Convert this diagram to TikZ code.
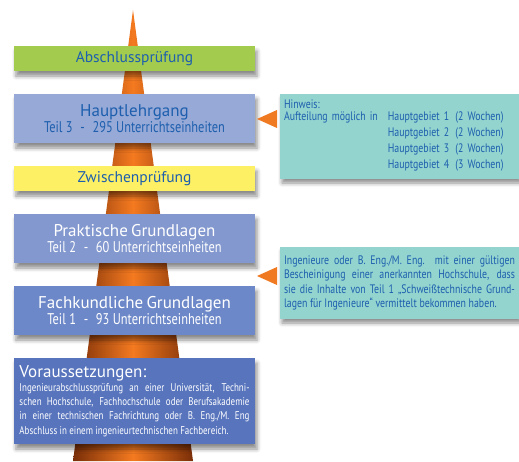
\documentclass[tikz,border=0pt]{standalone}
\usepackage{fontspec}
\setmainfont{PT Sans}
\newfontfamily\narrowfont[FakeStretch=0.8]{PT Sans}
\usetikzlibrary{shadows.blur}
\definecolor{textblue}{HTML}{1D5FAE}
\definecolor{greenbox}{HTML}{A3CC4F}
\definecolor{hauptbox}{HTML}{97A9D6}
\definecolor{yellowbox}{HTML}{FDF064}
\definecolor{praktbox}{HTML}{8398CE}
\definecolor{fachbox}{HTML}{6D88C8}
\definecolor{vorbox}{HTML}{5774BD}
\definecolor{notebox}{HTML}{93D4CF}
\definecolor{spiredark}{HTML}{7A2E08}
\definecolor{spireorange}{HTML}{F47A20}
\definecolor{pointer}{HTML}{F07A22}
\begin{document}
\begin{tikzpicture}[x=1pt,y=-1pt,
        every node/.style={inner sep=0pt, outer sep=0pt},
        stage/.style={fill=#1, minimum width=241pt, text width=232pt, align=center,
            blur shadow={shadow xshift=2pt, shadow yshift=-5pt, shadow blur radius=4pt, shadow opacity=45}},
        hint/.style={fill=notebox, minimum width=239pt, text width=231pt, text=textblue,
            blur shadow={shadow xshift=2pt, shadow yshift=-4pt, shadow blur radius=4pt, shadow opacity=45}}]
            \useasboundingbox (0,0) rectangle (519,461);

            \shade[left color=spiredark, right color=spiredark, middle color=spireorange] (133,10) -- (193,461) -- (73,461) -- cycle;

            \node (abschluss) at (134.5,58.5) [stage=greenbox, minimum height=25pt, text=textblue, font=\fontsize{15.5}{17}\selectfont]{Abschlussprüfung};
            \node (haupt) at (134.5,118.5) [stage=hauptbox, minimum height=49pt, text=textblue]{{\fontsize{17}{19}\selectfont Hauptlehrgang}\\[1pt]
                {\narrowfont\fontsize{15.5}{16}\selectfont Teil 3\enspace -\enspace 295 Unterrichtseinheiten}};
            \node (zwischen) at (134.5,178.5) [stage=yellowbox, minimum height=25pt, text=textblue, font=\fontsize{15.5}{17}\selectfont]{Zwischenprüfung};
            \node (praktisch) at (134.5,238.5) [stage=praktbox, minimum height=49pt, text=white]{{\fontsize{17}{19}\selectfont Praktische Grundlagen}\\[1pt]
                {\narrowfont\fontsize{15.5}{16}\selectfont Teil 2\enspace -\enspace 60 Unterrichtseinheiten}};
            \node (fach) at (134.5,310.5) [stage=fachbox, minimum height=49pt, text=white]{{\fontsize{17}{19}\selectfont Fachkundliche Grundlagen}\\[1pt]
                {\narrowfont\fontsize{15.5}{16}\selectfont Teil 1\enspace -\enspace 93 Unterrichtseinheiten}};
            \node (voraus) at (134.5,401) [stage=vorbox, minimum height=86pt, text width=230pt, align=justify, text=white]{{\fontsize{17}{19}\selectfont Voraussetzungen:}\par
                {\narrowfont\fontsize{11.2}{14.2}\selectfont Ingenieurabschlussprüfung an einer Universität, Techni-\linebreak
                schen Hochschule, Fachhochschule oder Berufsakademie\linebreak
                in einer technischen Fachrichtung oder B. Eng./M. Eng\linebreak
                Abschluss in einem ingenieurtechnischen Fachbereich.\par}};

            \node (hinweis) at (399.5,136.5) [hint, minimum height=85pt, align=left, font=\narrowfont\fontsize{12.3}{15.8}\selectfont]{Hinweis:\\
                \begin{tabular}{@{}l@{\hspace{10pt}}l@{}}
                Aufteilung möglich in & Hauptgebiet 1\enspace(2 Wochen)\\
                & Hauptgebiet 2\enspace(2 Wochen)\\
                & Hauptgebiet 3\enspace(2 Wochen)\\
                & Hauptgebiet 4\enspace(3 Wochen)
                \end{tabular}};
            \node (ingenieure) at (399.5,283) [hint, minimum height=72pt, align=justify, font=\narrowfont\fontsize{12.3}{14.3}\selectfont]{Ingenieure oder B. Eng./M. Eng. mit einer gültigen\linebreak
                Bescheinigung einer anerkannten Hochschule, dass\linebreak
                sie die Inhalte von Teil 1 „Schweißtechnische Grund-\linebreak
                lagen für Ingenieure“ vermittelt bekommen haben.\par};

            \fill[pointer] (257,119) -- (277,110) -- (277,128) -- cycle;
            \fill[pointer] (257,276) -- (277,267) -- (277,285) -- cycle;
        \end{tikzpicture}
\end{document}
